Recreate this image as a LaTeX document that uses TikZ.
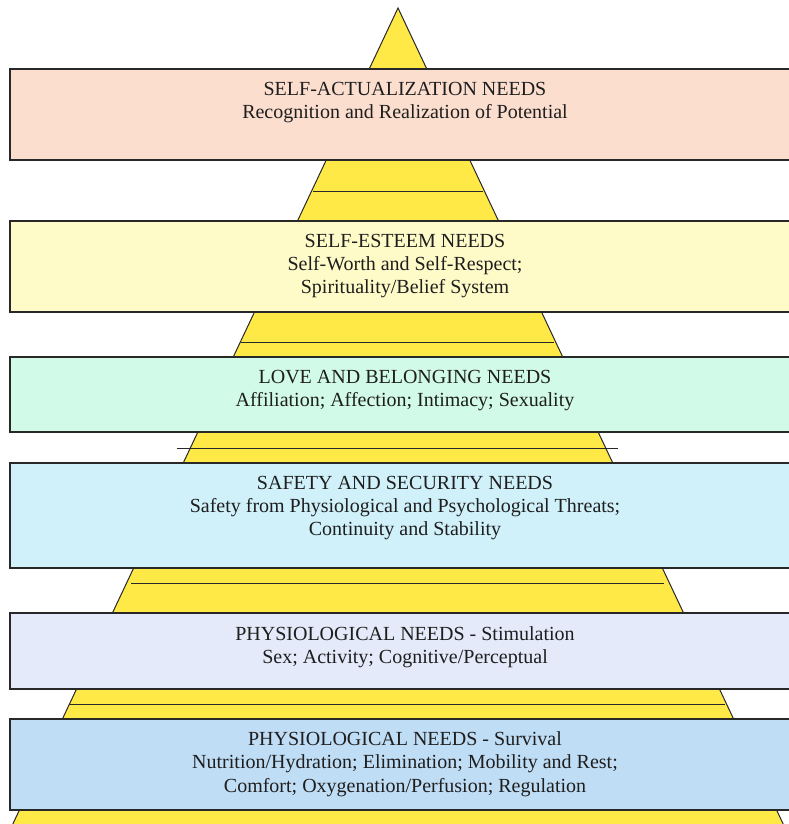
\documentclass[tikz,border=0pt]{standalone}
\usepackage{fontspec}
\setmainfont{Liberation Serif}
\definecolor{pyr}{RGB}{255,233,70}
\definecolor{edgec}{RGB}{40,40,40}
\definecolor{cA}{RGB}{252,222,207}
\definecolor{cB}{RGB}{255,251,200}
\definecolor{cC}{RGB}{210,250,232}
\definecolor{cD}{RGB}{208,241,250}
\definecolor{cE}{RGB}{228,234,250}
\definecolor{cF}{RGB}{192,221,246}
\definecolor{txt}{RGB}{30,30,30}
\begin{document}
\begin{tikzpicture}[x=1pt,y=-1pt,
  box/.style={draw=edgec, line width=1.1pt, rectangle, minimum width=790pt, inner sep=0pt},
  lbl/.style={anchor=base, inner sep=0pt, text=txt, font=\fontsize{20}{24}\selectfont},
  sep/.style={draw=edgec, line width=1pt}]
\useasboundingbox (0,0) rectangle (789,824);
\clip (0,0) rectangle (789,824);
\fill[white] (0,0) rectangle (789,824);
% pyramid
\coordinate (apex) at (398,8);
\coordinate (baseL) at (10,830);
\coordinate (baseR) at (786,830);
\path[fill=pyr, draw=edgec, line width=1pt] (apex) -- (baseL) -- (baseR) -- cycle;
% separator lines
\draw[sep] (313,191) -- (483,191);
\draw[sep] (241,342) -- (554,342);
\draw[sep] (177,448) -- (618,448);
\draw[sep] (131,583) -- (664,583);
\draw[sep] (69,704) -- (725,704);
% boxes
\node[box, fill=cA, minimum height=91pt] (b1) at (405,114.5) {};
\node[box, fill=cB, minimum height=91pt] (b2) at (405,266.5) {};
\node[box, fill=cC, minimum height=75pt] (b3) at (405,394.5) {};
\node[box, fill=cD, minimum height=105pt] (b4) at (405,515.5) {};
\node[box, fill=cE, minimum height=76pt] (b5) at (405,651) {};
\node[box, fill=cF, minimum height=91pt] (b6) at (405,764.5) {};
% texts
\node[lbl] (t1a) at (405,96) {SELF-ACTUALIZATION NEEDS};
\node[lbl] (t1b) at (405,118) {Recognition and Realization of Potential};
\node[lbl] (t2a) at (405,247) {SELF-ESTEEM NEEDS};
\node[lbl] (t2b) at (405,270) {Self-Worth and Self-Respect;};
\node[lbl] (t2c) at (405,293) {Spirituality/Belief System};
\node[lbl] (t3a) at (405,383) {LOVE AND BELONGING NEEDS};
\node[lbl] (t3b) at (405,406) {Affiliation; Affection; Intimacy; Sexuality};
\node[lbl] (t4a) at (405,489) {SAFETY AND SECURITY NEEDS};
\node[lbl] (t4b) at (405,512) {Safety from Physiological and Psychological Threats;};
\node[lbl] (t4c) at (405,535) {Continuity and Stability};
\node[lbl] (t5a) at (405,640) {PHYSIOLOGICAL NEEDS - Stimulation};
\node[lbl] (t5b) at (405,663) {Sex; Activity; Cognitive/Perceptual};
\node[lbl] (t6a) at (405,745) {PHYSIOLOGICAL NEEDS - Survival};
\node[lbl] (t6b) at (405,768) {Nutrition/Hydration; Elimination; Mobility and Rest;};
\node[lbl] (t6c) at (405,792) {Comfort; Oxygenation/Perfusion; Regulation};
\end{tikzpicture}
\end{document}
